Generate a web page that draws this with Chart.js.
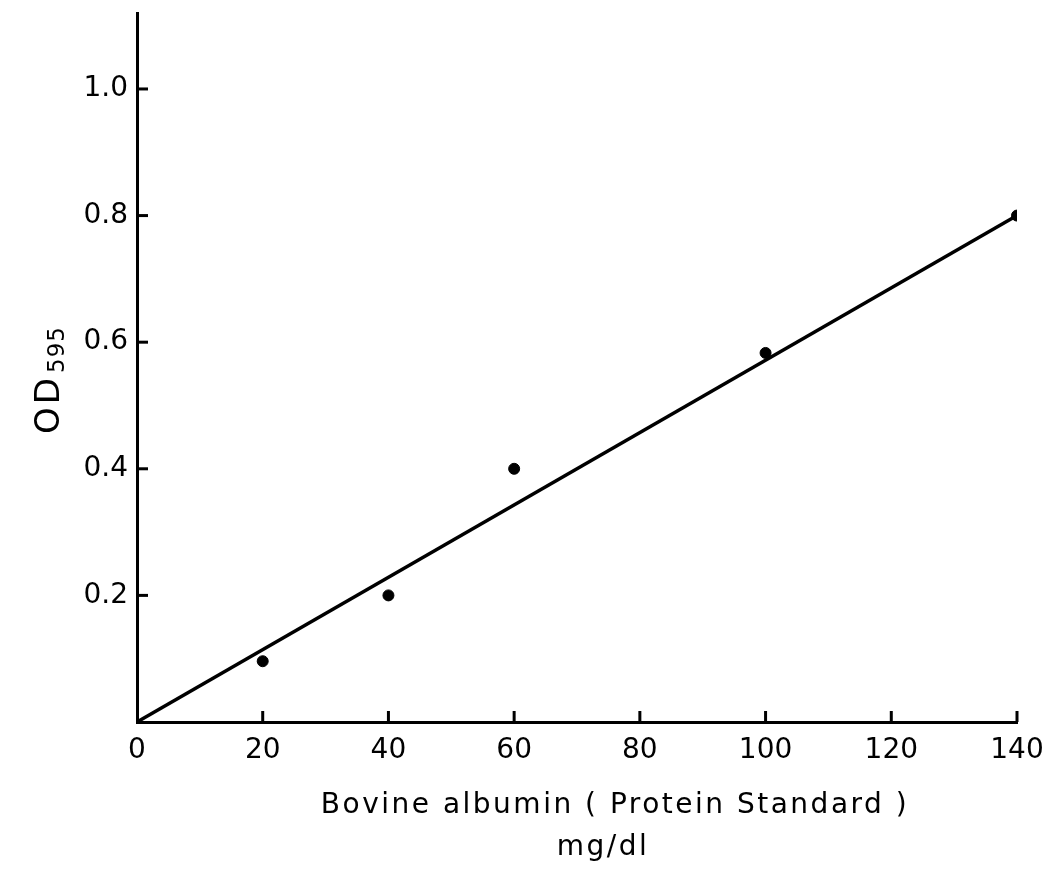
<!DOCTYPE html>
<html>
<head>
<meta charset="utf-8">
<script src="https://cdn.jsdelivr.net/npm/chart.js@4"></script>
<style>
  html, body { margin: 0; padding: 0; background: #fff; }
  #wrap { width: 1050px; height: 869px; }
</style>
</head>
<body>
<div id="wrap"><canvas id="c" width="1050" height="869"></canvas></div>
<script>
// measured standards
const concX = [20, 40, 60, 100, 140];
const odY = [0.096, 0.2, 0.4, 0.583, 0.8];
// fitted line
const fitX = [0, 140];
const fitY = [0, 0.8];
const xTicks = [0, 20, 40, 60, 80, 100, 120, 140];
const yTicks = [0.2, 0.4, 0.6, 0.8, 1.0];
const xTitle = ['Bovine albumin ( Protein Standard )', 'mg/dl'];

const FONT = '"DejaVu Sans", sans-serif';

// inward tick marks, titles
const axisExtras = {
    id: 'axisExtras',
    afterDraw(chart) {
        const { ctx, scales: { x, y } } = chart;
        ctx.save();
        ctx.strokeStyle = '#000';
        ctx.lineWidth = 3;
        xTicks.forEach(v => {
            if (v === 0) return;
            const px = x.getPixelForValue(v);
            ctx.beginPath();
            ctx.moveTo(px, y.bottom);
            ctx.lineTo(px, y.bottom - 11);
            ctx.stroke();
        });
        yTicks.forEach(v => {
            const py = y.getPixelForValue(v);
            ctx.beginPath();
            ctx.moveTo(x.left, py);
            ctx.lineTo(x.left + 11, py);
            ctx.stroke();
        });
        ctx.fillStyle = '#000';

        // x title, two lines
        ctx.textAlign = 'center';
        ctx.textBaseline = 'middle';
        ctx.font = '28px ' + FONT;
        ctx.letterSpacing = '2.5px';
        ctx.fillText(xTitle[0], 615, 806);
        ctx.fillText(xTitle[1], 603, 848);
        ctx.letterSpacing = '0px';

        // y title with subscript
        ctx.translate(46, 380);
        ctx.rotate(-Math.PI / 2);
        ctx.textAlign = 'left';
        ctx.textBaseline = 'alphabetic';
        ctx.font = '34px ' + FONT;
        ctx.letterSpacing = '3px';
        const w1 = ctx.measureText('OD').width;
        ctx.font = '23px ' + FONT;
        ctx.letterSpacing = '1px';
        const w2 = ctx.measureText('595').width;
        const start = -(w1 + w2 + 2) / 2;
        ctx.font = '34px ' + FONT;
        ctx.letterSpacing = '3px';
        ctx.fillText('OD', start, 13);
        ctx.font = '23px ' + FONT;
        ctx.letterSpacing = '1px';
        ctx.fillText('595', start + w1 + 2, 18);
        ctx.restore();
    }
};

new Chart(document.getElementById('c'), {
    type: 'scatter',
    data: {
        datasets: [
            {
                label: 'standards',
                data: concX.map((v, i) => ({ x: v, y: odY[i] })),
                backgroundColor: '#000',
                borderColor: '#000',
                pointRadius: 5.5,
                pointHoverRadius: 5.5
            },
            {
                label: 'fit',
                data: fitX.map((v, i) => ({ x: v, y: fitY[i] })),
                showLine: true,
                borderColor: '#000',
                borderWidth: 3.5,
                pointRadius: 0,
                fill: false
            }
        ]
    },
    options: {
        responsive: false,
        animation: false,
        layout: { padding: { top: 13, right: 33, left: 0, bottom: 0 } },
        plugins: { legend: { display: false }, tooltip: { enabled: false } },
        scales: {
            x: {
                type: 'linear', min: 0, max: 140,
                afterBuildTicks: s => { s.ticks = xTicks.map(v => ({ value: v })); },
                afterFit: s => { s.height = 147; s.paddingLeft = 0; s.paddingRight = 0; },
                grid: { display: false, drawTicks: false },
                border: { display: true, color: '#000', width: 3 },
                ticks: { color: '#000', padding: 12, font: { family: FONT, size: 28 } }
            },
            y: {
                type: 'linear', min: 0, max: 1.12,
                afterBuildTicks: s => { s.ticks = yTicks.map(v => ({ value: v })); },
                afterFit: s => { s.width = 137; s.paddingTop = 0; s.paddingBottom = 0; },
                grid: { display: false, drawTicks: false },
                border: { display: true, color: '#000', width: 3 },
                ticks: { color: '#000', padding: 9, font: { family: FONT, size: 28 },
                    callback: v => v.toFixed(1) }
            }
        }
    },
    plugins: [axisExtras]
});
</script>
</body>
</html>
